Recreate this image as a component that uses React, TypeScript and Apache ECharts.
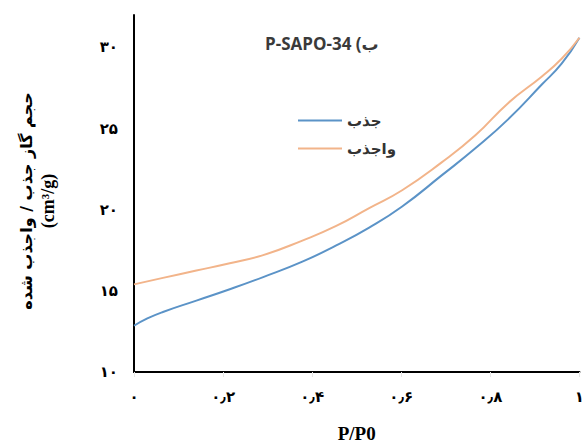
import React, { useEffect, useRef } from "react";
import * as echarts from "echarts";

const pressureAds = [0, 0.03, 0.065, 0.14, 0.215, 0.29, 0.378, 0.454, 0.528, 0.602, 0.69, 0.767, 0.841, 0.915, 0.96, 1];
const adsorption = [12.85, 13.3, 13.7, 14.4, 15.1, 15.85, 16.8, 17.8, 18.9, 20.2, 22.1, 23.8, 25.6, 27.7, 29.0, 30.6];
const pressureDes = [0, 0.065, 0.14, 0.215, 0.29, 0.378, 0.454, 0.528, 0.602, 0.69, 0.767, 0.841, 0.915, 0.96, 1];
const desorption = [15.4, 15.8, 16.25, 16.7, 17.2, 18.1, 19.0, 20.1, 21.2, 22.9, 24.6, 26.6, 28.2, 29.3, 30.6];

const seriesNames = ["جذب", "واجذب"];
const xTickLabels: Record<string, string> = { "0": "۰", "0.2": "۰٫۲", "0.4": "۰٫۴", "0.6": "۰٫۶", "0.8": "۰٫۸", "1": "۱" };
const yTickLabels: Record<string, string> = { "10": "۱۰", "15": "۱۵", "20": "۲۰", "25": "۲۵", "30": "۳۰" };
const titleText = "P-SAPO-34 (ب";
const yNameLine1 = "حجم گاز جذب / واجذب شده";
const yNameLine2 = "(cm³/g)";
const xName = "P/P0";

export default function App() {
  const ref = useRef<HTMLDivElement>(null);
  useEffect(() => {
    const chart = echarts.init(ref.current!, null, { renderer: "svg" });
    const adsData = pressureAds.map((p, i) => [p, adsorption[i]]);
    const desData = pressureDes.map((p, i) => [p, desorption[i]]);
    chart.setOption({
      animation: false,
      backgroundColor: "#ffffff",
      grid: { left: 134, right: 5, top: 15, bottom: 70, containLabel: false },
      title: {
        text: titleText,
        left: 260,
        top: 30,
        textStyle: { fontFamily: "Open Sans, DejaVu Sans", fontWeight: "bold", fontSize: 17, color: "#3a3a3a" },
      },
      legend: {
        orient: "vertical",
        left: 293,
        top: 108,
        itemWidth: 44,
        itemHeight: 16,
        itemGap: 13,
        data: seriesNames.map((n) => ({ name: n, icon: "path://M0,7 L44,7 L44,9 L0,9 Z" })),
        textStyle: { fontFamily: "DejaVu Sans", fontWeight: "bold", fontSize: 15, color: "#333" },
      },
      xAxis: {
        type: "value",
        min: 0,
        max: 1,
        interval: 0.2,
        name: xName,
        nameLocation: "middle",
        nameGap: 52,
        nameTextStyle: { fontFamily: "Liberation Serif", fontWeight: "bold", fontSize: 19, color: "#000" },
        axisLine: { show: true, lineStyle: { color: "#000", width: 2 } },
        axisTick: { show: true, length: 5, lineStyle: { color: "#e6e6e6" } },
        splitLine: { show: false },
        axisLabel: {
          margin: 17,
          fontFamily: "DejaVu Sans",
          fontWeight: "bold",
          fontSize: 15,
          color: "#000",
          formatter: (v: number) => xTickLabels[String(Math.round(v * 10) / 10)] ?? "",
        },
      },
      yAxis: {
        type: "value",
        min: 10,
        max: 32,
        interval: 5,
        axisLine: { show: true, lineStyle: { color: "#000", width: 2 } },
        axisTick: { show: false },
        splitLine: { show: false },
        axisLabel: {
          margin: 16,
          fontFamily: "DejaVu Sans",
          fontWeight: "bold",
          fontSize: 15,
          color: "#000",
          formatter: (v: number) => yTickLabels[String(v)] ?? "",
        },
      },
      graphic: [
        {
          type: "text",
          x: 26,
          y: 201,
          rotation: Math.PI / 2,
          style: {
            text: yNameLine1,
            fontFamily: "DejaVu Sans",
            fontWeight: "bold",
            fontSize: 16,
            fill: "#000",
            align: "center",
            verticalAlign: "middle",
          },
        },
        {
          type: "text",
          x: 48,
          y: 201,
          rotation: Math.PI / 2,
          style: {
            text: yNameLine2,
            fontFamily: "Liberation Serif",
            fontWeight: "bold",
            fontSize: 18,
            fill: "#000",
            align: "center",
            verticalAlign: "middle",
          },
        },
      ],
      series: [
        {
          name: seriesNames[0],
          type: "line",
          data: adsData,
          smooth: 0.5,
          showSymbol: false,
          lineStyle: { color: "#5b93c7", width: 2 },
          itemStyle: { color: "#5b93c7" },
        },
        {
          name: seriesNames[1],
          type: "line",
          data: desData,
          smooth: 0.5,
          showSymbol: false,
          lineStyle: { color: "#f2b48a", width: 2 },
          itemStyle: { color: "#f2b48a" },
        },
      ],
    });
    return () => chart.dispose();
  }, []);
  return <div ref={ref} style={{ width: 587, height: 448, position: "absolute", left: 0, top: 0 }} />;
}
